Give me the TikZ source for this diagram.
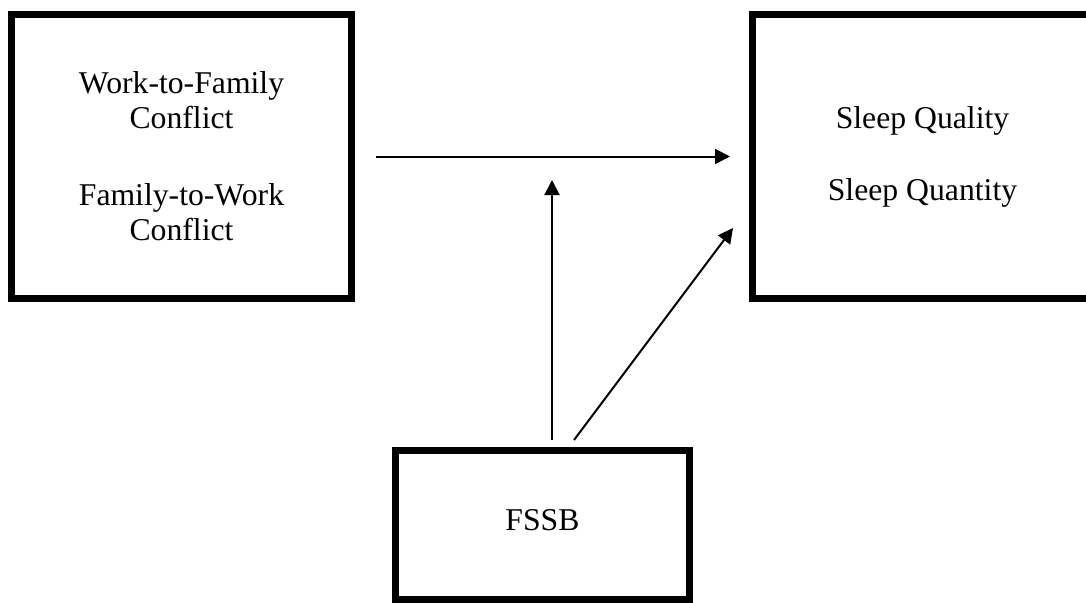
\documentclass[tikz,border=0pt]{standalone}
\usepackage{fontspec}
\setmainfont{Liberation Serif}
\usetikzlibrary{arrows.meta}

\begin{document}
\begin{tikzpicture}[x=1pt, y=-1pt,
    box/.style={draw, line width=7pt, minimum width=340pt, minimum height=284pt,
        align=center, inner sep=0pt, font=\fontsize{31.7}{35}\selectfont},
    arr/.style={line width=2pt, -{Triangle[length=15pt, width=15pt]}}]
    \clip (0,0) rectangle (1086,602);

    \node[box] (conflict) at (181.5,156.5) {Work-to-Family\\Conflict\\[42pt]Family-to-Work\\Conflict};
    \node[box] (sleep) at (922.5,156.5) {Sleep Quality\\[37pt]Sleep Quantity};
    \node[box, minimum width=294pt, minimum height=149pt] (fssb) at (542.5,525) {\raisebox{10pt}{FSSB}};

    % free ends of the moderation arrows
    \coordinate (base) at (552,440);
    \coordinate (join) at (552,180);
    \coordinate (foot) at (574,440);
    \coordinate (tip) at (733,228);

    \draw[arr] ([xshift=21pt]conflict.east) -- ([xshift=-19pt]sleep.west);
    \draw[arr] (base) -- (join);
    \draw[arr] (foot) -- (tip);
\end{tikzpicture}
\end{document}
